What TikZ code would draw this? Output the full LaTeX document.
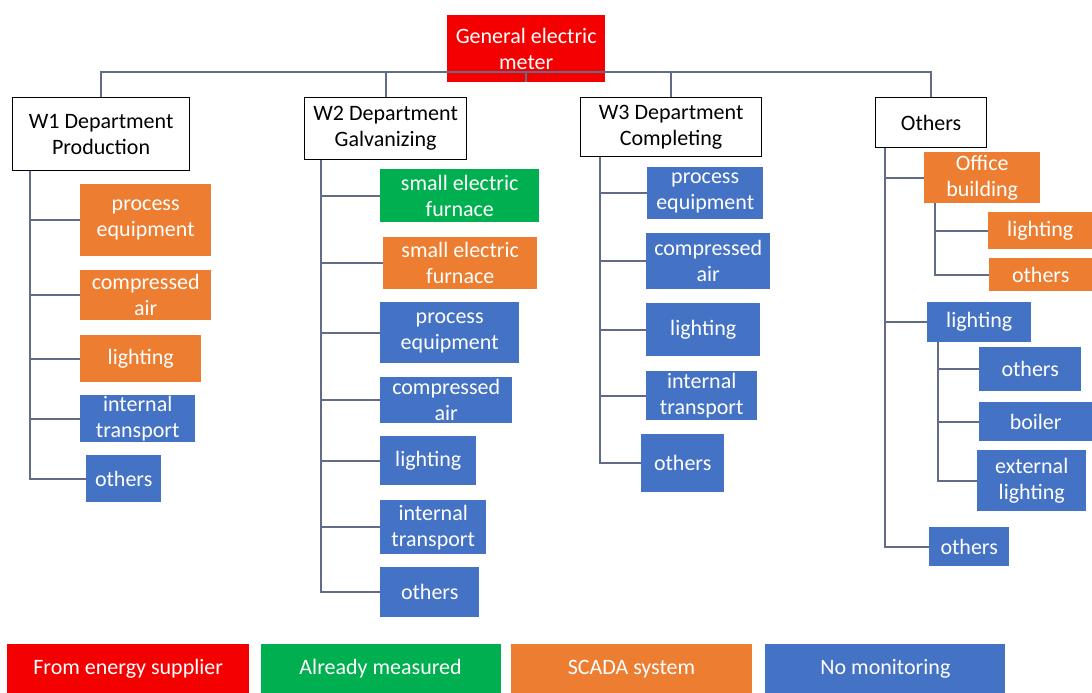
\documentclass[tikz,border=0pt]{standalone}
\usepackage{fontspec}
\setmainfont{Carlito}
\usetikzlibrary{positioning}

\definecolor{suppred}{RGB}{245,0,0}
\definecolor{measgreen}{RGB}{0,176,80}
\definecolor{scadaorange}{RGB}{237,125,49}
\definecolor{nomonblue}{RGB}{68,114,196}
\definecolor{linkgray}{RGB}{96,108,136}

\begin{document}
\begin{tikzpicture}[
  x=1pt, y=-1pt,
  every node/.style = {font=\fontsize{22}{26}\selectfont},
  sz/.style 2 args  = {minimum width=#1, minimum height=#2, anchor=north west},
  box/.style        = {rectangle, inner sep=0pt, align=center, text=white},
  supplier/.style   = {box, fill=suppred},
  measured/.style   = {box, fill=measgreen},
  scada/.style      = {box, fill=scadaorange},
  nomon/.style      = {box, fill=nomonblue},
  dept/.style       = {rectangle, draw=black, line width=1.2pt, fill=white,
                       text=black, inner sep=0pt, align=center},
  legend/.style     = {box, minimum height=49, anchor=north west},
  link/.style       = {draw=linkgray, line width=1.8pt},
]
\useasboundingbox (0,0) rectangle (1092,693);

% top meter and departments
\node[supplier, sz={158}{67}] (meter) at (447,15) {General electric\\meter};
\node[dept, sz={177}{73}] (w1)  at (12,97)  {W1 Department\\Production};
\node[dept, sz={162}{62}] (w2)  at (304,97) {W2 Department\\Galvanizing};
\node[dept, sz={181}{59}] (w3)  at (580,97) {W3 Department\\Completing};
\node[dept, sz={111}{50}] (oth) at (875,97) {Others};

% W1
\node[scada, sz={131}{72}] (w1pe) at (80,184) {process\\equipment};
\node[scada, sz={131}{50}] (w1ca) at (80,270) {compressed\\air};
\node[scada, sz={121}{47}] (w1li) at (80,335) {lighting};
\node[nomon, sz={115}{47}] (w1it) at (80,395) {internal\\transport};
\node[nomon, sz={75}{47}]  (w1ot) at (86,455) {others};

% W2
\node[measured, sz={159}{53}] (w2sg) at (380,169) {small electric\\furnace};
\node[scada, sz={154}{52}]    (w2so) at (383,237) {small electric\\furnace};
\node[nomon, sz={139}{61}]    (w2pe) at (380,302) {process\\equipment};
\node[nomon, sz={132}{46}]    (w2ca) at (380,377) {compressed\\air};
\node[nomon, sz={96}{49}]     (w2li) at (380,436) {lighting};
\node[nomon, sz={106}{54}]    (w2it) at (380,500) {internal\\transport};
\node[nomon, sz={99}{50}]     (w2ot) at (380,567) {others};

% W3
\node[nomon, sz={116}{52}] (w3pe) at (647,167) {process\\equipment};
\node[nomon, sz={124}{56}] (w3ca) at (646,233) {compressed\\air};
\node[nomon, sz={114}{53}] (w3li) at (646,303) {lighting};
\node[nomon, sz={111}{49}] (w3it) at (646,371) {internal\\transport};
\node[nomon, sz={83}{58}]  (w3ot) at (641,434) {others};

% Others
\node[scada, sz={116}{51}] (ofb)  at (924,152) {Office\\building};
\node[scada, sz={104}{37}] (ofli) at (988,212) {lighting};
\node[scada, sz={103}{33}] (ofot) at (989,258) {others};
\node[nomon, sz={104}{40}] (oli)  at (927,302) {lighting};
\node[nomon, sz={102}{44}] (olo)  at (979,347) {others};
\node[nomon, sz={113}{39}] (olb)  at (979,402) {boiler};
\node[nomon, sz={109}{61}] (ole)  at (977,450) {external\\lighting};
\node[nomon, sz={80}{39}]  (oot)  at (929,527) {others};

% bus from the meter
\coordinate (bus) at ([yshift=10]meter.south);
\draw[link] (meter.south) -- (bus);
\draw[link] (w1.north) -- (w1.north |- bus) -- (oth.north |- bus) -- (oth.north);
\draw[link] (w2.north) -- (w2.north |- bus);
\draw[link] (w3.north) -- (w3.north |- bus);

% branches
\coordinate (w1t)  at ([xshift=18]w1.south west);
\coordinate (w2t)  at ([xshift=17]w2.south west);
\coordinate (w3t)  at ([xshift=20]w3.south west);
\coordinate (otht) at ([xshift=10]oth.south west);
\coordinate (ofbt) at ([xshift=11]ofb.south west);
\coordinate (olit) at ([xshift=11]oli.south west);
\foreach \c in {w1pe,w1ca,w1li,w1it,w1ot}
  \draw[link] (w1t) |- (\c.west);
\foreach \c in {w2sg,w2so,w2pe,w2ca,w2li,w2it,w2ot}
  \draw[link] (w2t) |- (\c.west);
\foreach \c in {w3pe,w3ca,w3li,w3it,w3ot}
  \draw[link] (w3t) |- (\c.west);
\foreach \c in {ofb,oli,oot}
  \draw[link] (otht) |- (\c.west);
\foreach \c in {ofli,ofot}
  \draw[link] (ofbt) |- (\c.west);
\foreach \c in {olo,olb,ole}
  \draw[link] (olit) |- (\c.west);

% legend
\node[legend, fill=suppred, minimum width=242] (lg1) at (7,644) {From energy supplier};
\node[legend, fill=measgreen, minimum width=240, right=11pt of lg1] (lg2) {Already measured};
\node[legend, fill=scadaorange, minimum width=241, right=10pt of lg2] (lg3) {SCADA system};
\node[legend, fill=nomonblue, minimum width=240, right=13pt of lg3] (lg4) {No monitoring};
\end{tikzpicture}
\end{document}
